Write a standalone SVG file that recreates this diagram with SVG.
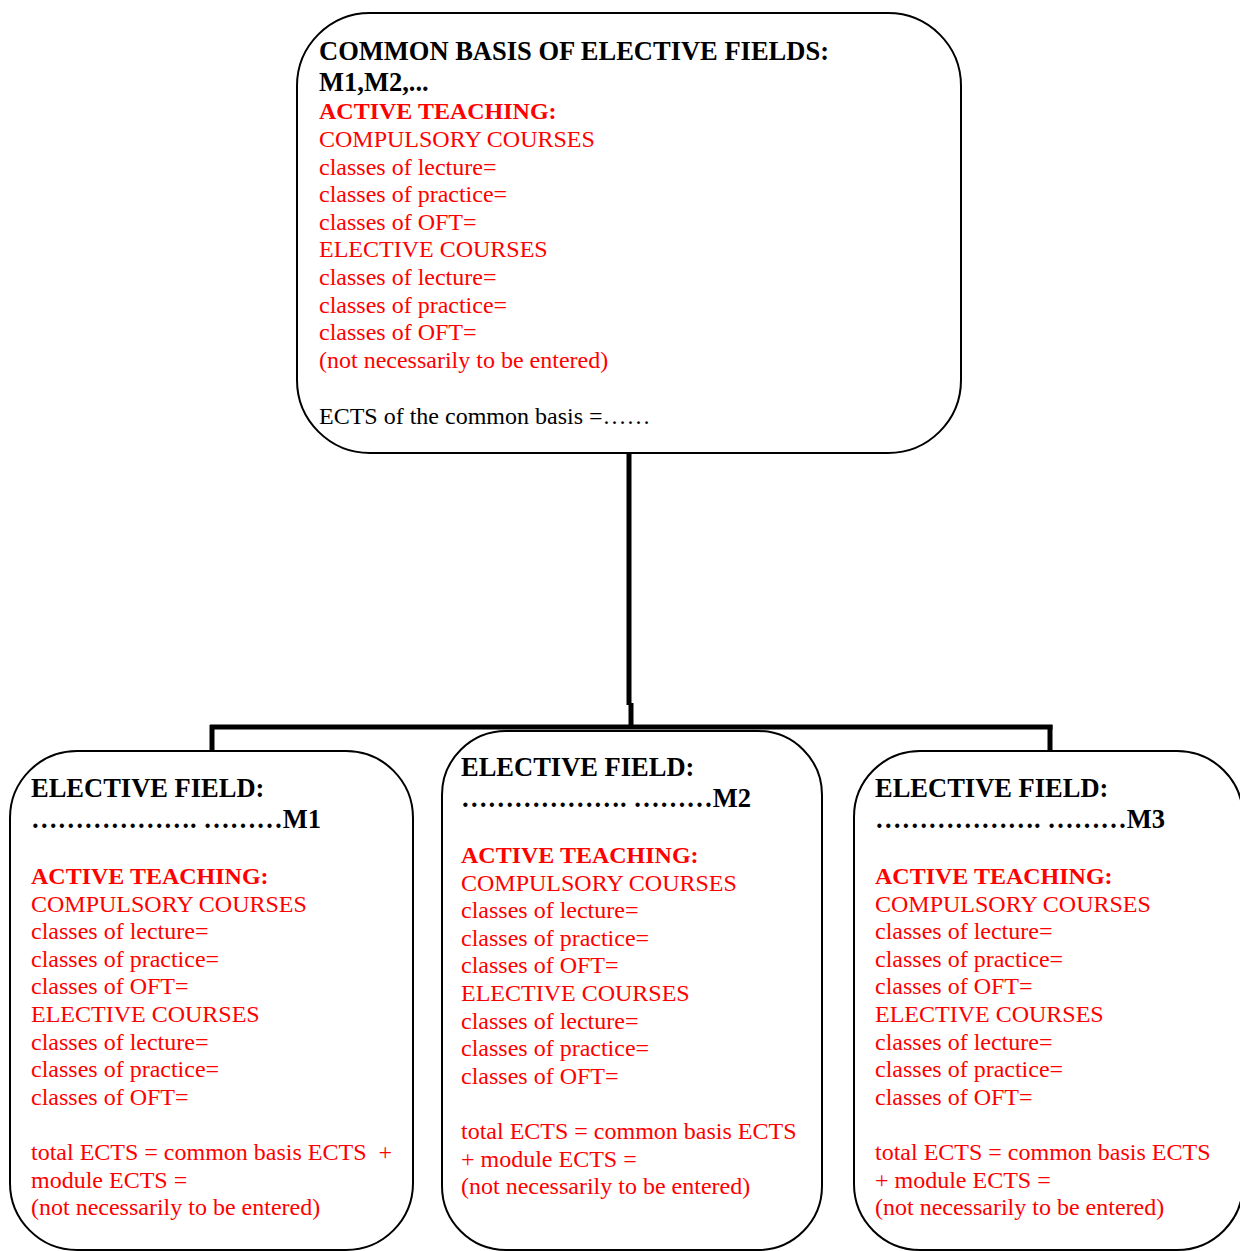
<svg xmlns="http://www.w3.org/2000/svg" width="1240" height="1251" viewBox="0 0 1240 1251">
  <style>
    .box { fill: #ffffff; stroke: #000000; stroke-width: 2; }
    .wire { fill: none; stroke: #000000; stroke-width: 5; stroke-linecap: butt; }
    text { font-family: "Liberation Serif", "Times New Roman", serif; font-size: 24px; white-space: pre; }
    .head { font-weight: bold; font-size: 26.5px; fill: #000000; }
    .act { font-weight: bold; fill: #ff0000; }
    .red { fill: #ff0000; }
    .blk { fill: #000000; }
  </style>

  <rect width="1240" height="1251" fill="#ffffff"/>

  <!-- tree connectors -->
  <g id="connectors">
    <polyline class="wire" points="629,453 629,705"/>
    <polyline class="wire" points="631,703 631,727"/>
    <polyline class="wire" points="210,727 1052.5,727"/>
    <polyline class="wire" points="212,725 212,752"/>
    <polyline class="wire" points="1050,725 1050,752"/>
  </g>

  <!-- common basis -->
  <g id="common-basis">
    <rect class="box" x="297" y="13" width="664" height="440" rx="73" ry="73"/>
    <text class="head" x="319" y="60">COMMON BASIS OF ELECTIVE FIELDS:</text>
    <text class="head" x="319" y="91">M1,M2,...</text>
    <text class="act" x="319" y="119">ACTIVE TEACHING:</text>
    <text class="red" x="319" y="147">COMPULSORY COURSES</text>
    <text class="red" x="319" y="174.6">classes of lecture=</text>
    <text class="red" x="319" y="202.2">classes of practice=</text>
    <text class="red" x="319" y="229.8">classes of OFT=</text>
    <text class="red" x="319" y="257.4">ELECTIVE COURSES</text>
    <text class="red" x="319" y="285">classes of lecture=</text>
    <text class="red" x="319" y="312.6">classes of practice=</text>
    <text class="red" x="319" y="340.2">classes of OFT=</text>
    <text class="red" x="319" y="367.8">(not necessarily to be entered)</text>
    <text class="blk" x="319" y="423.5">ECTS of the common basis =……</text>
  </g>

  <!-- elective field M1 -->
  <g id="field-m1">
    <rect class="box" x="10" y="751" width="403" height="499" rx="67" ry="67"/>
    <text class="head" x="31" y="797">ELECTIVE FIELD:</text>
    <text class="head" x="31" y="828">………………. ………M1</text>
    <text class="act" x="31" y="884">ACTIVE TEACHING:</text>
    <text class="red" x="31" y="911.6">COMPULSORY COURSES</text>
    <text class="red" x="31" y="939.2">classes of lecture=</text>
    <text class="red" x="31" y="966.8">classes of practice=</text>
    <text class="red" x="31" y="994.4">classes of OFT=</text>
    <text class="red" x="31" y="1022">ELECTIVE COURSES</text>
    <text class="red" x="31" y="1049.6">classes of lecture=</text>
    <text class="red" x="31" y="1077.2">classes of practice=</text>
    <text class="red" x="31" y="1104.8">classes of OFT=</text>
    <text class="red" x="31" y="1160">total ECTS = common basis ECTS  +</text>
    <text class="red" x="31" y="1187.6">module ECTS =</text>
    <text class="red" x="31" y="1215.2">(not necessarily to be entered)</text>
  </g>

  <!-- elective field M2 -->
  <g id="field-m2">
    <rect class="box" x="442" y="731" width="380" height="519" rx="64" ry="64"/>
    <text class="head" x="461" y="776">ELECTIVE FIELD:</text>
    <text class="head" x="461" y="807">………………. ………M2</text>
    <text class="act" x="461" y="863">ACTIVE TEACHING:</text>
    <text class="red" x="461" y="890.6">COMPULSORY COURSES</text>
    <text class="red" x="461" y="918.2">classes of lecture=</text>
    <text class="red" x="461" y="945.8">classes of practice=</text>
    <text class="red" x="461" y="973.4">classes of OFT=</text>
    <text class="red" x="461" y="1001">ELECTIVE COURSES</text>
    <text class="red" x="461" y="1028.6">classes of lecture=</text>
    <text class="red" x="461" y="1056.2">classes of practice=</text>
    <text class="red" x="461" y="1083.8">classes of OFT=</text>
    <text class="red" x="461" y="1139">total ECTS = common basis ECTS</text>
    <text class="red" x="461" y="1166.6">+ module ECTS =</text>
    <text class="red" x="461" y="1194.2">(not necessarily to be entered)</text>
  </g>

  <!-- elective field M3 -->
  <g id="field-m3">
    <rect class="box" x="854" y="751" width="389" height="499" rx="66" ry="66"/>
    <text class="head" x="875" y="797">ELECTIVE FIELD:</text>
    <text class="head" x="875" y="828">………………. ………M3</text>
    <text class="act" x="875" y="884">ACTIVE TEACHING:</text>
    <text class="red" x="875" y="911.6">COMPULSORY COURSES</text>
    <text class="red" x="875" y="939.2">classes of lecture=</text>
    <text class="red" x="875" y="966.8">classes of practice=</text>
    <text class="red" x="875" y="994.4">classes of OFT=</text>
    <text class="red" x="875" y="1022">ELECTIVE COURSES</text>
    <text class="red" x="875" y="1049.6">classes of lecture=</text>
    <text class="red" x="875" y="1077.2">classes of practice=</text>
    <text class="red" x="875" y="1104.8">classes of OFT=</text>
    <text class="red" x="875" y="1160">total ECTS = common basis ECTS</text>
    <text class="red" x="875" y="1187.6">+ module ECTS =</text>
    <text class="red" x="875" y="1215.2">(not necessarily to be entered)</text>
  </g>
</svg>
